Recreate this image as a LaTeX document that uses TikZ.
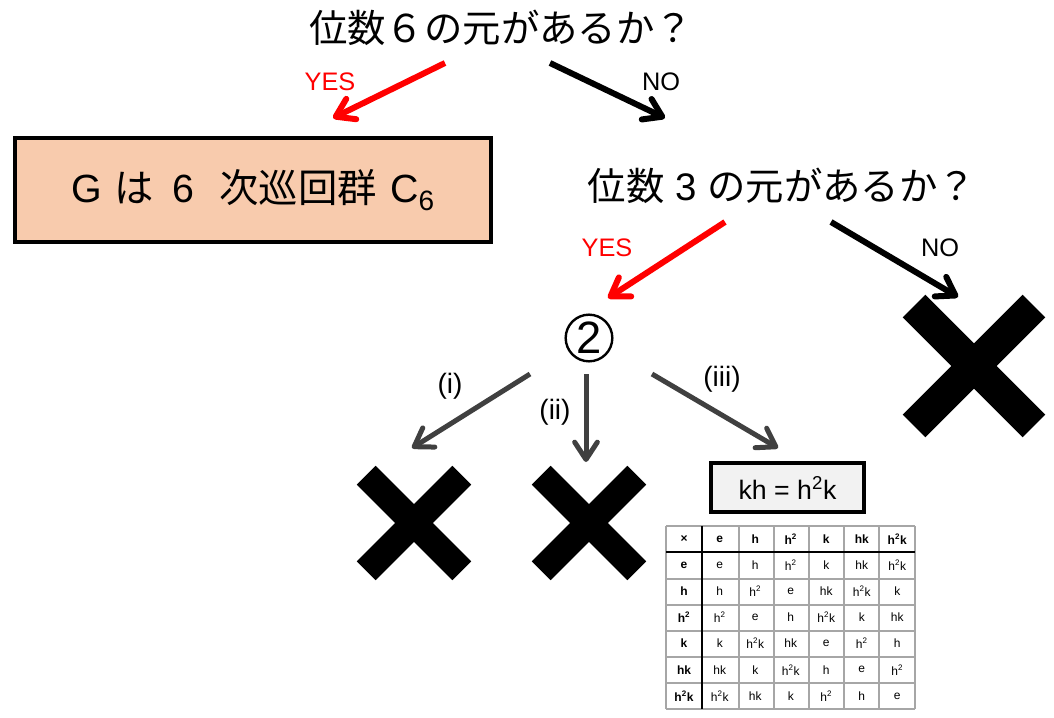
\documentclass[tikz,border=0pt]{standalone}
\usepackage{fontspec}
\setmainfont{Liberation Sans}
\newfontfamily\jp{Noto Sans CJK JP}
\usetikzlibrary{arrows.meta}
\definecolor{peach}{HTML}{F8CBAD}
\definecolor{darkgrey}{HTML}{404040}
\definecolor{boxgrey}{HTML}{F2F2F2}
\definecolor{gridgrey}{HTML}{A6A6A6}
\definecolor{yesred}{HTML}{FF0000}
\tikzset{
  question/.style={font=\jp\fontsize{28.8}{32}\selectfont, inner sep=0pt},
  arrowbase/.style={-{Straight Barb[length=13pt,width=17pt,round]}},
  yesarrow/.style={arrowbase, draw=yesred, line width=4.5pt},
  noarrow/.style={arrowbase, draw=black, line width=4.5pt},
  casearrow/.style={arrowbase, draw=darkgrey, line width=3.75pt},
  yeslabel/.style={text=yesred, font=\fontsize{19}{22}\selectfont, inner sep=0pt},
  nolabel/.style={text=black, font=\fontsize{19}{22}\selectfont, inner sep=0pt},
  caselabel/.style={text=black, font=\fontsize{21}{24}\selectfont, inner sep=0pt},
  xmark/.style={inner sep=0pt, draw=none},
  xarm/.style={line width=#1, line cap=butt, draw=black},
  cell/.style={inner sep=0pt, font=\fontsize{9}{10}\selectfont},
}
\begin{document}
\begin{tikzpicture}[x=0.75pt,y=-0.75pt]
\useasboundingbox (0,0) rectangle (1054,718);

% questions
\node[question] (q1) at (501,28) {位数６の元があるか？};
\node[question] (q2) at (782,186) {位数\hspace{8pt}{\rmfamily 3}\hspace{8pt}の元があるか？};

% result box C6
\node[draw=black, line width=3pt, fill=peach, minimum width=357pt, minimum height=78pt,
      font=\jp\fontsize{29.5}{32}\selectfont] (c6) at (253,190)
      {{\rmfamily G}\hspace{9pt}は\hspace{14pt}{\rmfamily 6}\hspace{19pt}次巡回群\hspace{10pt}{\rmfamily C\raisebox{-6pt}{\fontsize{21}{22}\selectfont 6}}};

% circled 2
\node[draw=black, circle, line width=1.8pt, minimum size=35pt, inner sep=0pt,
      font=\fontsize{34}{36}\selectfont] (two) at (589,338) {2};

% crosses
\node[xmark, minimum size=85.5pt] (x1) at (414,523) {};
\node[xmark, minimum size=85.5pt] (x2) at (589,523) {};
\node[xmark, minimum size=106.5pt] (x3) at (974,366) {};
\foreach \n/\o/\w in {x1/9.5/20pt, x2/9.5/20pt, x3/11.3/24pt}{
  \draw[xarm=\w] ([shift={(\o,\o)}]\n.north west) -- ([shift={(-\o,-\o)}]\n.south east);
  \draw[xarm=\w] ([shift={(-\o,\o)}]\n.north east) -- ([shift={(\o,-\o)}]\n.south west);
}

% kh box
\node[draw=black, line width=3pt, fill=boxgrey, minimum width=115pt, minimum height=37pt,
      font=\fontsize{20}{24}\selectfont] (kh) at (787.5,487.5) {kh = h\textsuperscript{2}k};

% arrow end points
\coordinate (a1s) at (445,63);  \coordinate (a1e) at (333,118);
\coordinate (a2s) at (550,63);  \coordinate (a2e) at (665,118);
\coordinate (a3s) at (725,222); \coordinate (a3e) at (608,298);
\coordinate (a4s) at (831,222); \coordinate (a4e) at (958,297);
\coordinate (a5s) at (530,374); \coordinate (a5e) at (412,448);
\coordinate (a6s) at (586,374); \coordinate (a6e) at (586,462);
\coordinate (a7s) at (652,374); \coordinate (a7e) at (778,448);

\draw[yesarrow] (a1s) -- (a1e);
\draw[noarrow]  (a2s) -- (a2e);
\draw[yesarrow] (a3s) -- (a3e);
\draw[noarrow]  (a4s) -- (a4e);
\draw[casearrow] (a5s) -- (a5e);
\draw[casearrow] (a6s) -- (a6e);
\draw[casearrow] (a7s) -- (a7e);

% labels
\node[yeslabel] (y1) at (330,82) {YES};
\node[nolabel]  (n1) at (661,82) {NO};
\node[yeslabel] (y2) at (607,248) {YES};
\node[nolabel]  (n2) at (940,248) {NO};
\node[caselabel] (l1) at (450,386) {(i)};
\node[caselabel] (l2) at (555,412) {(ii)};
\node[caselabel] (l3) at (722,379) {(iii)};

% multiplication table
\foreach \yy in {526,552,579,605,631,657,683,709}
  \draw[gridgrey, line width=0.8pt] (666,\yy) -- (915,\yy);
\foreach \xx in {666,702,739,774,809,844,879,915}
  \draw[gridgrey, line width=0.8pt] (\xx,526) -- (\xx,709);
\draw[black, line width=2.2pt] (666,552) -- (915,552);
\draw[black, line width=2.2pt] (702,526) -- (702,709);

\foreach \row [count=\r from 0] in {
  {×,e,h,{h\textsuperscript{2}},k,hk,{h\textsuperscript{2}k}},
  {e,e,h,{h\textsuperscript{2}},k,hk,{h\textsuperscript{2}k}},
  {h,h,{h\textsuperscript{2}},e,hk,{h\textsuperscript{2}k},k},
  {{h\textsuperscript{2}},{h\textsuperscript{2}},e,h,{h\textsuperscript{2}k},k,hk},
  {k,k,{h\textsuperscript{2}k},hk,e,{h\textsuperscript{2}},h},
  {hk,hk,k,{h\textsuperscript{2}k},h,e,{h\textsuperscript{2}}},
  {{h\textsuperscript{2}k},{h\textsuperscript{2}k},hk,k,{h\textsuperscript{2}},h,e}}{
  \foreach \cellv [count=\c from 0] in \row {
    \pgfmathsetmacro{\cx}{\c==0 ? 684 : 702+35.5*(\c-0.5)}
    \pgfmathsetmacro{\cy}{526+26.14*(\r+0.5)}
    \pgfmathtruncatemacro{\hd}{(\r==0 || \c==0) ? 1 : 0}
    \ifnum\hd=1
      \node[cell, font=\fontsize{9}{10}\selectfont\bfseries] (t-\r-\c) at (\cx,\cy) {\cellv};
    \else
      \node[cell] (t-\r-\c) at (\cx,\cy) {\cellv};
    \fi
  }
}
\end{tikzpicture}
\end{document}
